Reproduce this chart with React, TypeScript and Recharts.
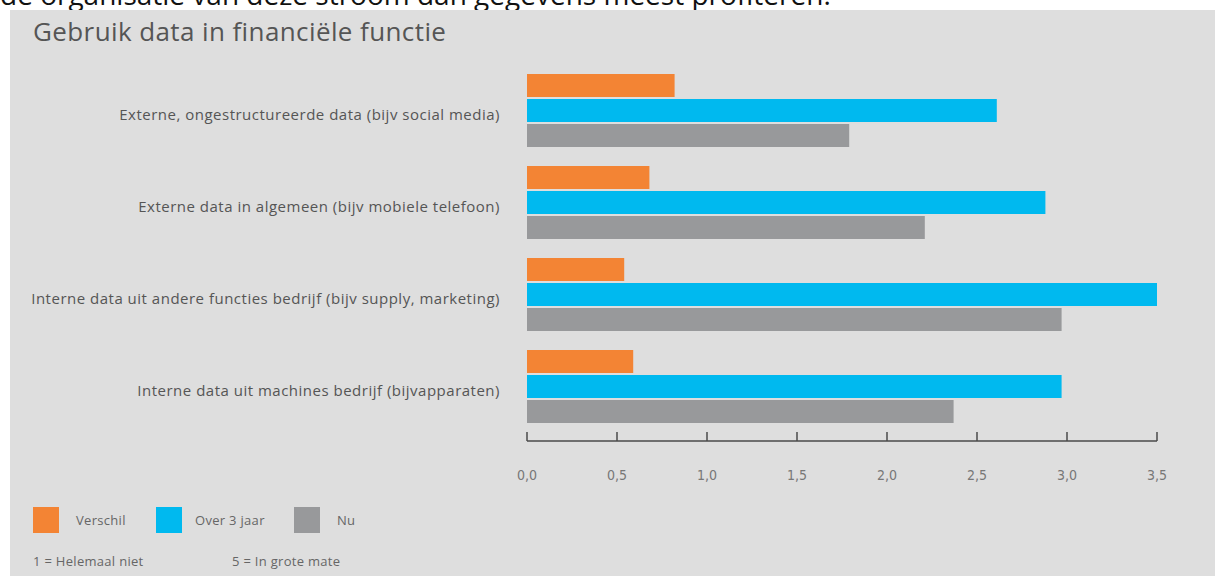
import React from "react";
import { BarChart, Bar, XAxis, YAxis } from "recharts";

const categories = [
  "Externe, ongestructureerde data (bijv social media)",
  "Externe data in algemeen (bijv mobiele telefoon)",
  "Interne data uit andere functies bedrijf (bijv supply, marketing)",
  "Interne data uit machines bedrijf (bijvapparaten)",
];
const verschil = [0.82, 0.68, 0.54, 0.59];
const over3jaar = [2.61, 2.88, 3.5, 2.97];
const nu = [1.79, 2.21, 2.97, 2.37];
const xTicks = [0, 0.5, 1, 1.5, 2, 2.5, 3, 3.5];

const data = categories.map((c, i) => ({
  name: c,
  verschil: verschil[i],
  over3jaar: over3jaar[i],
  nu: nu[i],
}));

const ORANGE = "#f38434";
const BLUE = "#00b9ef";
const GRAY = "#98999b";
const LABEL_FONT = "'Open Sans', sans-serif";

const XTick = (props: any) => {
  const { x, y, payload } = props;
  return (
    <g>
      <line x1={x} y1={y} x2={x} y2={y - 9} stroke="#4a4a4a" strokeWidth={1.5} />
      <text
        x={x}
        y={y + 39}
        textAnchor="middle"
        fill="#777"
        fontSize={14}
        fontFamily="'Liberation Sans Narrow', 'DejaVu Sans Condensed', sans-serif"
      >
        {payload.value.toFixed(1).replace(".", ",")}
      </text>
    </g>
  );
};

const YTick = (props: any) => {
  const { x, y, payload } = props;
  return (
    <text
      x={x}
      y={y + 10}
      textAnchor="end"
      fill="#555"
      fontSize={15}
      letterSpacing={0.5}
      fontFamily={LABEL_FONT}
    >
      {payload.value}
    </text>
  );
};

const legendItems = [
  { label: "Verschil", color: ORANGE, x: 33, tx: 76 },
  { label: "Over 3 jaar", color: BLUE, x: 156, tx: 195 },
  { label: "Nu", color: GRAY, x: 294, tx: 337 },
];

const smallText: React.CSSProperties = {
  position: "absolute",
  fontSize: 13,
  letterSpacing: 0.3,
  color: "#666",
  lineHeight: "16px",
  whiteSpace: "nowrap",
  fontFamily: LABEL_FONT,
};

export default function App() {
  return (
    <div
      style={{
        position: "absolute",
        left: 0,
        top: 0,
        width: 1215,
        height: 576,
        background: "#fff",
        overflow: "hidden",
        fontFamily: LABEL_FONT,
      }}
    >
      <div
        style={{
          position: "absolute",
          left: 0,
          top: -23,
          fontSize: 28,
          fontFamily: "'Open Sans', sans-serif",
          color: "#111",
          whiteSpace: "nowrap",
          lineHeight: "34px",
        }}
      >
        de organisatie van deze stroom dan gegevens meest profiteren.
      </div>
      <div
        style={{
          position: "absolute",
          left: 10,
          top: 10,
          width: 1205,
          height: 566,
          background: "#dedede",
        }}
      />
      <div
        style={{
          position: "absolute",
          left: 33,
          top: 14,
          fontSize: 26,
          letterSpacing: 0.4,
          color: "#555",
          whiteSpace: "nowrap",
          lineHeight: "34px",
        }}
      >
        Gebruik data in financiële functie
      </div>
      <div style={{ position: "absolute", left: 0, top: 0 }}>
        <BarChart
          width={1215}
          height={576}
          data={data}
          layout="vertical"
          margin={{ top: 64, right: 58, bottom: 75, left: 0 }}
          barSize={23}
          barGap={2}
        >
          <XAxis
            type="number"
            domain={[0, 3.5]}
            ticks={xTicks}
            interval={0}
            tickSize={0}
            tickMargin={0}
            tickLine={false}
            axisLine={{ stroke: "#4a4a4a", strokeWidth: 1.5 }}
            tick={<XTick />}
            height={60}
          />
          <YAxis
            type="category"
            dataKey="name"
            width={527}
            axisLine={false}
            tickLine={false}
            tickSize={0}
            tickMargin={27}
            tick={<YTick />}
            padding={{ top: 0, bottom: 9 }}
            interval={0}
          />
          <Bar dataKey="verschil" fill={ORANGE} isAnimationActive={false} />
          <Bar dataKey="over3jaar" fill={BLUE} isAnimationActive={false} />
          <Bar dataKey="nu" fill={GRAY} isAnimationActive={false} />
        </BarChart>
      </div>
      {legendItems.map((l) => (
        <React.Fragment key={l.label}>
          <div
            style={{
              position: "absolute",
              left: l.x,
              top: 507,
              width: 26,
              height: 26,
              background: l.color,
            }}
          />
          <div style={{ ...smallText, left: l.tx, top: 512 }}>{l.label}</div>
        </React.Fragment>
      ))}
      <div style={{ ...smallText, left: 33, top: 553 }}>1 = Helemaal niet</div>
      <div style={{ ...smallText, left: 232, top: 553 }}>5 = In grote mate</div>
    </div>
  );
}
